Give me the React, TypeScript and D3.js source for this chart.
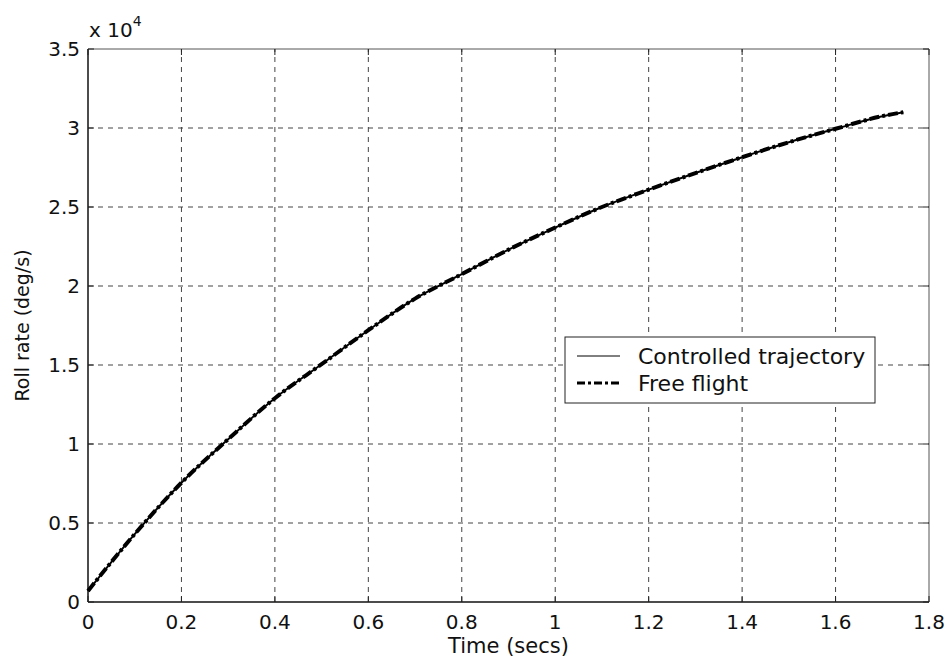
import React, { useEffect, useRef } from 'react';
import * as d3 from 'd3';

// roll rate, deg/s
const timeSecs = [0, 0.1, 0.2, 0.3, 0.4, 0.5, 0.6, 0.7, 0.8, 0.9, 1.0, 1.1, 1.2, 1.3, 1.4, 1.5, 1.6, 1.7, 1.745];
const rollRate = [700, 4300, 7550, 10300, 12900, 15050, 17200, 19200, 20750, 22300, 23700, 25000, 26100, 27150, 28150, 29100, 29950, 30750, 31000];
const xTicks = [0, 0.2, 0.4, 0.6, 0.8, 1, 1.2, 1.4, 1.6, 1.8];
const yTicks = [0, 0.5, 1, 1.5, 2, 2.5, 3, 3.5];
const legendLabels = ['Controlled trajectory', 'Free flight'];

const W = 950;
const H = 668;
const FONT = '"DejaVu Sans", Verdana, sans-serif';

export default function App() {
  const ref = useRef<SVGSVGElement>(null);

  useEffect(() => {
    const svg = d3.select(ref.current);
    svg.selectAll('*').remove();

    const x = d3.scaleLinear().domain([0, 1.8]).range([88, 929]);
    const y = d3.scaleLinear().domain([0, 3.5]).range([602, 49]);
    const [x0, x1] = x.range();
    const [y0, y1] = y.range();

    svg.append('rect').attr('width', W).attr('height', H).attr('fill', '#fff');

    // grid
    const grid = svg.append('g').attr('stroke', '#444').attr('stroke-width', 1).attr('stroke-dasharray', '5,5');
    xTicks.slice(1, -1).forEach(t => {
      grid.append('line').attr('x1', x(t)).attr('x2', x(t)).attr('y1', y0).attr('y2', y1);
    });
    yTicks.slice(1, -1).forEach(t => {
      grid.append('line').attr('x1', x0).attr('x2', x1).attr('y1', y(t)).attr('y2', y(t));
    });

    // box
    svg.append('line').attr('x1', x0).attr('x2', x1).attr('y1', y1).attr('y2', y1).attr('stroke', '#555');
    svg.append('line').attr('x1', x1).attr('x2', x1).attr('y1', y0).attr('y2', y1).attr('stroke', '#555');
    svg.append('line').attr('x1', x0).attr('x2', x0).attr('y1', y0).attr('y2', y1).attr('stroke', '#111').attr('stroke-width', 1.5);
    svg.append('line').attr('x1', x0).attr('x2', x1).attr('y1', y0).attr('y2', y0).attr('stroke', '#111').attr('stroke-width', 1.5);

    // inner ticks
    const ticks = svg.append('g').attr('stroke', '#222');
    xTicks.forEach(t => {
      ticks.append('line').attr('x1', x(t)).attr('x2', x(t)).attr('y1', y0).attr('y2', y0 - 6);
      ticks.append('line').attr('x1', x(t)).attr('x2', x(t)).attr('y1', y1).attr('y2', y1 + 6);
    });
    yTicks.forEach(t => {
      ticks.append('line').attr('x1', x0).attr('x2', x0 + 6).attr('y1', y(t)).attr('y2', y(t));
      ticks.append('line').attr('x1', x1).attr('x2', x1 - 6).attr('y1', y(t)).attr('y2', y(t));
    });

    // tick labels
    const labels = svg.append('g').attr('font-family', FONT).attr('font-size', 20).attr('fill', '#111');
    xTicks.forEach(t => {
      labels.append('text').attr('x', x(t)).attr('y', y0 + 27).attr('text-anchor', 'middle').text(String(t));
    });
    yTicks.forEach(t => {
      labels.append('text').attr('x', x0 - 8).attr('y', y(t) + 7).attr('text-anchor', 'end').text(String(t));
    });
    const exp = labels.append('text').attr('x', x0 + 1).attr('y', 37);
    exp.append('tspan').text('x 10');
    exp.append('tspan').attr('font-size', 14).attr('dy', -11).text('4');

    // axis titles
    svg.append('text').attr('x', (x0 + x1) / 2).attr('y', 653).attr('text-anchor', 'middle')
      .attr('font-family', FONT).attr('font-size', 21).attr('fill', '#111').text('Time (secs)');
    svg.append('text').attr('transform', `translate(29,${(y0 + y1) / 2}) rotate(-90)`).attr('text-anchor', 'middle')
      .attr('font-family', FONT).attr('font-size', 19).attr('fill', '#111').text('Roll rate (deg/s)');

    // curves
    const pts: [number, number][] = timeSecs.map((t, i) => [t, rollRate[i] / 1e4]);
    const line = d3.line<[number, number]>().x(d => x(d[0])).y(d => y(d[1])).curve(d3.curveMonotoneX);
    svg.append('path').attr('d', line(pts)).attr('fill', 'none').attr('stroke', '#000').attr('stroke-width', 2);
    svg.append('path').attr('d', line(pts)).attr('fill', 'none').attr('stroke', '#000').attr('stroke-width', 4)
      .attr('stroke-dasharray', '10,3,3,3');

    // legend
    const lg = svg.append('g');
    lg.append('rect').attr('x', 565).attr('y', 337).attr('width', 310).attr('height', 66)
      .attr('fill', '#fff').attr('stroke', '#222');
    lg.append('line').attr('x1', 577).attr('x2', 620).attr('y1', 356).attr('y2', 356).attr('stroke', '#000');
    lg.append('line').attr('x1', 577).attr('x2', 620).attr('y1', 383).attr('y2', 383).attr('stroke', '#000')
      .attr('stroke-width', 3).attr('stroke-dasharray', '8,3,3,3');
    legendLabels.forEach((s, i) => {
      lg.append('text').attr('x', 638).attr('y', 364 + i * 27).attr('font-family', FONT).attr('font-size', 22)
        .attr('fill', '#111').text(s);
    });
  }, []);

  return (
    <svg ref={ref} width={W} height={H} style={{ position: 'absolute', left: 0, top: 0, display: 'block' }} />
  );
}
